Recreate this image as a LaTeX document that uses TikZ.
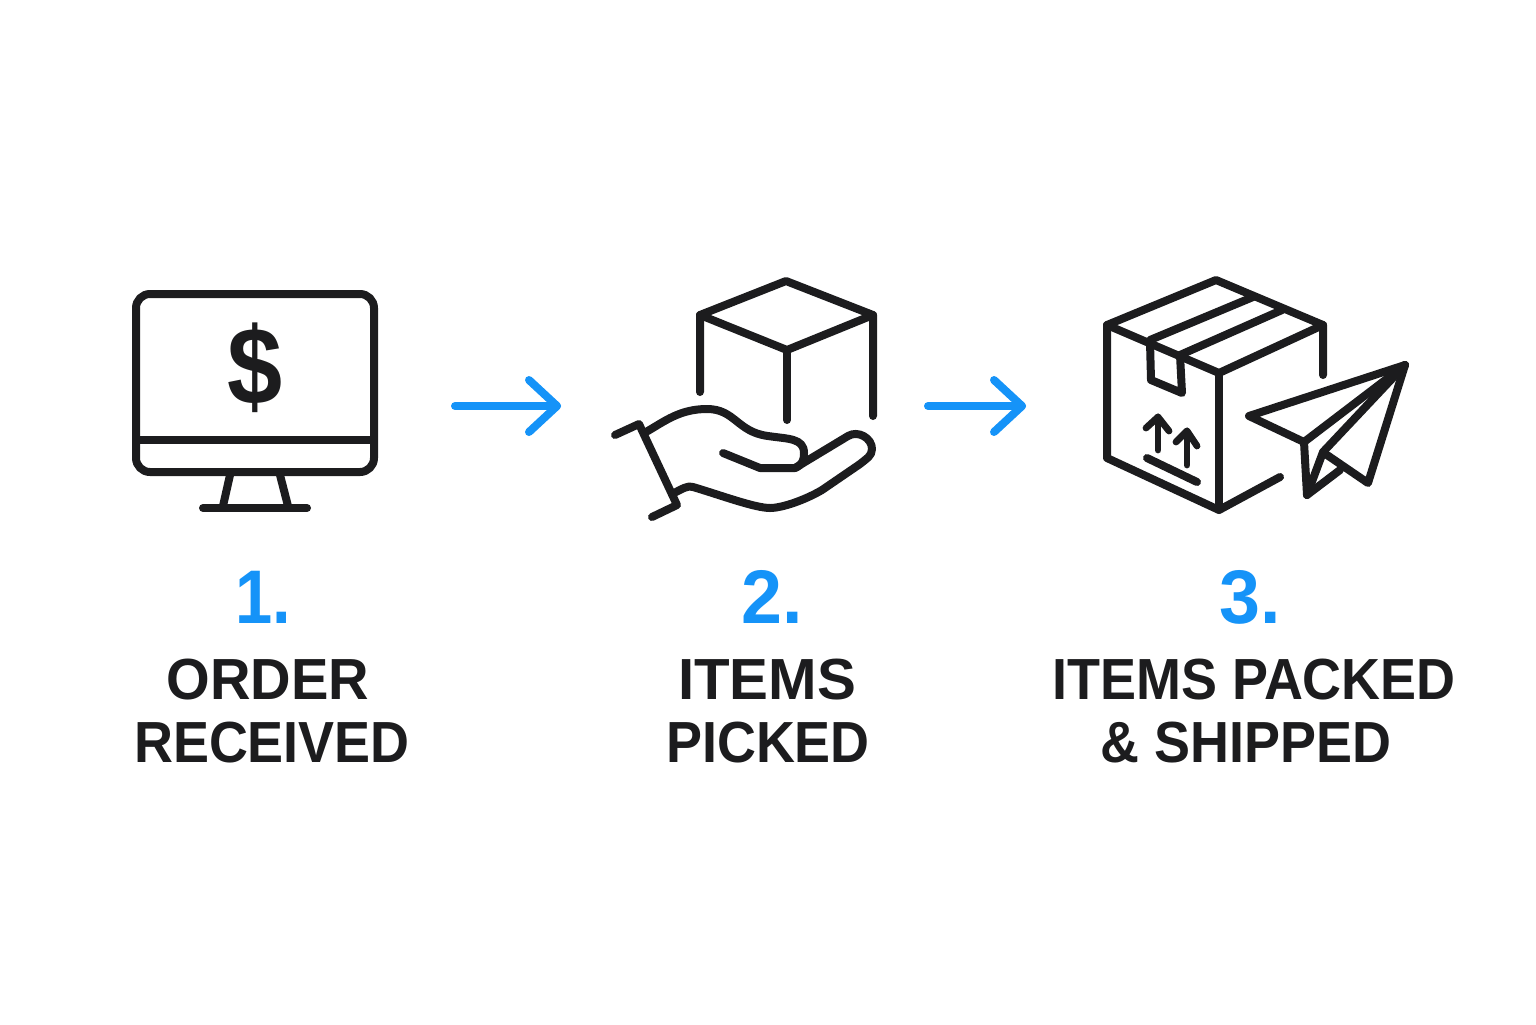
\documentclass[tikz,border=0pt]{standalone}
\usepackage{fontspec}
\setmainfont{Liberation Sans}
\newfontfamily\labfont[FakeStretch=0.93]{Liberation Sans Bold}
\newfontfamily\numfont[FakeStretch=0.88]{Liberation Sans Bold}
\newfontfamily\dolfont[FakeStretch=0.9]{Liberation Sans Bold}
\definecolor{ink}{HTML}{1C1C1E}
\definecolor{blu}{HTML}{1593F8}
\tikzset{
 icon/.style={draw=ink,line width=4pt,line cap=round,line join=round},
 thin/.style={icon,line width=3.4pt},
 flow/.style={draw=blu,line width=4pt,line cap=round,line join=round},
 num/.style={text=blu,font=\fontsize{38}{38}\selectfont\numfont,inner sep=0pt,anchor=base},
 lab/.style={text=ink,font=\fontsize{29}{31.5}\selectfont\labfont,inner sep=0pt,anchor=base},
}
\begin{document}
\begin{tikzpicture}[x=0.5pt,y=-0.5pt]
\useasboundingbox (0,0) rectangle (1536,1024);
% monitor
\draw[icon,rounded corners=7pt] (136,294) rectangle (374,472);
\draw[icon,line cap=butt] (136,440) -- (374,440);
\draw[icon,line cap=butt] (230,475) -- (223,506);
\draw[icon,line cap=butt] (280,475) -- (288,506);
\draw[icon] (203,508) -- (307,508);
\node[text=ink,inner sep=0pt,font=\fontsize{55}{55}\selectfont\dolfont] (dollar) at (255,368) {\$};
% cube
\draw[icon] (700,392) -- (700,315) -- (786,281) -- (873,315) -- (873,416);
\draw[icon] (700,315) -- (787,350) -- (873,315);
\draw[icon] (787,350) -- (787,420);
% hand
\draw[icon] (615,435) -- (639,424) -- (677,505) -- (652,517);
\draw[icon] (646,432) .. controls (665,421) and (680,409) .. (707,409)
 .. controls (735,409) and (737,432) .. (768,436)
 .. controls (788,439) and (804,438) .. (804,453)
 .. controls (804,461) and (802,465) .. (795,468)
 -- (760,468) -- (723,453);
\draw[icon] (795,468) -- (848,436) .. controls (858,430) and (872,438) .. (872,449)
 .. controls (872,456) and (866,459) .. (860,464) -- (822,490)
 .. controls (805,500) and (782,508) .. (770,508)
 .. controls (755,508) and (720,495) .. (693,487)
 .. controls (688,485) and (682,489) .. (674,493);
% box
\draw[icon] (1323,375) -- (1323,325) -- (1216,280) -- (1107,325) -- (1107,458) -- (1219,510) -- (1280,477);
\draw[icon] (1107,325) -- (1219,373) -- (1323,325);
\draw[icon] (1219,373) -- (1219,510);
\draw[icon] (1150,340) -- (1253,297);
\draw[icon] (1180,355) -- (1282,310);
\draw[icon] (1150,342) -- (1151,380) -- (1182,393) -- (1180,355);
\draw[thin] (1158,450) -- (1158,417);
\draw[thin] (1146,428) -- (1158,417) -- (1169,431);
\draw[thin] (1187,465) -- (1187,431);
\draw[thin] (1176,442) -- (1187,431) -- (1197,446);
\draw[icon] (1147,458) -- (1197,482);
% plane
\draw[icon] (1405,365) -- (1249,416) -- (1304,442) -- (1307,495) -- (1340,470);
\draw[icon] (1405,365) -- (1368,483) -- (1327,455);
\draw[icon] (1405,365) -- (1304,442);
\draw[icon] (1405,365) -- (1323,452) -- (1307,495);
% flow arrows
\coordinate (a1s) at (455,406); \coordinate (a1e) at (557,406);
\coordinate (a1u) at (529,380); \coordinate (a1d) at (529,432);
\coordinate (a2s) at (928,406); \coordinate (a2e) at (1022,406);
\coordinate (a2u) at (994,380); \coordinate (a2d) at (994,432);
\draw[flow] (a1s) -- (a1e); \draw[flow] (a1u) -- (a1e) -- (a1d);
\draw[flow] (a2s) -- (a2e); \draw[flow] (a2u) -- (a2e) -- (a2d);
% text
\node[num] (n1) at (263,623) {1.};
\node[num,xscale=1.1] (n2) at (772,623) {2.};
\node[num,xscale=1.1] (n3) at (1250,623) {3.};
\node[lab,xscale=1.04] (l1a) at (268,699) {ORDER};
\node[lab] (l1b) at (272,762) {RECEIVED};
\node[lab,xscale=1.08] (l2a) at (767,699) {ITEMS};
\node[lab] (l2b) at (768,762) {PICKED};
\node[lab] (l3a) at (1254,699) {ITEMS PACKED};
\node[lab] (l3b) at (1246,762) {\& SHIPPED};
\end{tikzpicture}
\end{document}
